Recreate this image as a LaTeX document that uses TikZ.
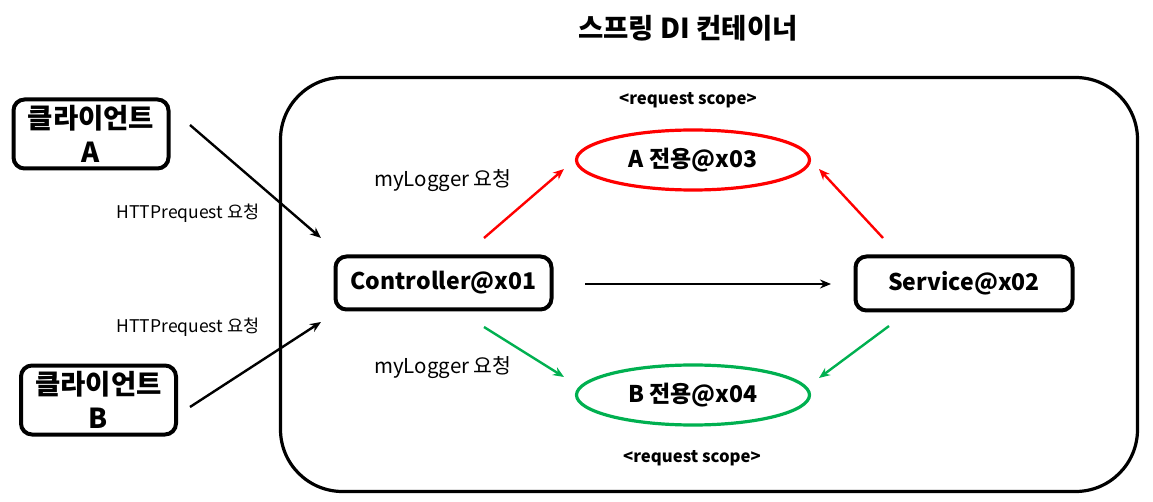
\documentclass[tikz,border=0pt]{standalone}
\usepackage{fontspec}
\setmainfont{Noto Sans CJK KR}
\usetikzlibrary{arrows.meta,shapes.geometric}
\definecolor{myred}{RGB}{255,0,0}
\definecolor{mygreen}{RGB}{0,176,80}
\tikzset{
  box/.style={draw=black, line width=4pt, rounded corners=11pt, fill=white, align=center, font=\bfseries\fontsize{23}{27}\selectfont},
  client/.style={box, font=\bfseries\fontsize{27.5}{34}\selectfont, minimum width=155pt, minimum height=69pt, inner sep=0pt},
  scopeell/.style={ellipse, draw, line width=3.2pt, minimum width=233pt, minimum height=60pt, inner sep=0pt, font=\bfseries\fontsize{23}{27}\selectfont},
  arr/.style={line width=2.4pt, -{Stealth[length=11pt,width=9pt]}},
  lbl/.style={font=\fontsize{17.5}{20}\selectfont, inner sep=0pt},
  mlbl/.style={font=\fontsize{20.5}{23}\selectfont, inner sep=0pt},
  scopelbl/.style={font=\bfseries\fontsize{16.7}{19}\selectfont, inner sep=0pt}
}
\begin{document}
\begin{tikzpicture}[x=1pt,y=-1pt]
\useasboundingbox (0,0) rectangle (1153,502);
% title
\node[font=\bfseries\fontsize{27.5}{32}\selectfont] (title) at (688,28) {스프링 DI 컨테이너};
% container
\node[draw, line width=3.2pt, rounded corners=62pt, minimum width=857pt, minimum height=414pt, inner sep=0pt] (cont) at (709,284.5) {};
% clients
\node[client] (ca) at (91,134) {클라이언트\\A};
\node[client] (cb) at (98.5,400) {클라이언트\\B};
% boxes
\node[box, minimum width=216pt, minimum height=53pt, inner sep=0pt] (ctrl) at (443.5,283) {Controller@x01};
\node[box, minimum width=217pt, minimum height=54pt, inner sep=0pt] (svc) at (964,283.5) {Service@x02};
% ellipses
\node[scopeell, draw=myred] (ea) at (693,160) {A 전용@x03};
\node[scopeell, draw=mygreen] (eb) at (693,395) {B 전용@x04};
% scope labels
\node[scopelbl] (sa) at (688,100) {<request scope>};
\node[scopelbl] (sb) at (692,458) {<request scope>};
% edge labels
\node[lbl] (ha) at (188,213) {HTTPrequest 요청};
\node[lbl] (hb) at (188,327) {HTTPrequest 요청};
\node[mlbl] (ma) at (443,181) {myLogger 요청};
\node[mlbl] (mb) at (443,368) {myLogger 요청};
% arrow ends
\coordinate (caS) at (190,125);
\coordinate (ctrlA) at (321,238);
\coordinate (cbS) at (190,407);
\coordinate (ctrlB) at (321,322);
\coordinate (ctrlE) at (585,284);
\coordinate (svcW) at (831,284);
\coordinate (ctrlNE) at (484,238);
\coordinate (eaSW) at (564,169);
\coordinate (ctrlSE) at (484,327);
\coordinate (ebNW) at (564,377);
\coordinate (svcNW) at (883,238);
\coordinate (eaSE) at (819,169);
\coordinate (svcSW) at (889,326);
\coordinate (ebNE) at (819,378);
% arrows
\draw[arr] (caS) -- (ctrlA);
\draw[arr] (cbS) -- (ctrlB);
\draw[arr] (ctrlE) -- (svcW);
\draw[arr, draw=myred, fill=myred] (ctrlNE) -- (eaSW);
\draw[arr, draw=myred, fill=myred] (svcNW) -- (eaSE);
\draw[arr, draw=mygreen, fill=mygreen] (ctrlSE) -- (ebNW);
\draw[arr, draw=mygreen, fill=mygreen] (svcSW) -- (ebNE);
\end{tikzpicture}
\end{document}
